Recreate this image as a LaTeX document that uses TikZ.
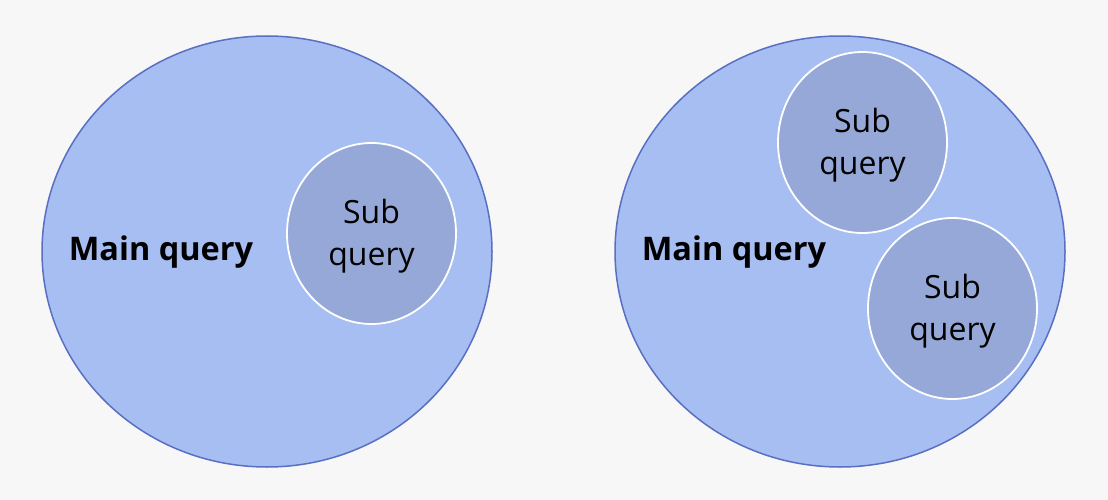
\documentclass[tikz,border=0pt]{standalone}
\usepackage{fontspec}
\setmainfont{Open Sans}
\definecolor{bg}{HTML}{F7F7F7}
\definecolor{mainfill}{HTML}{A6BEF2}
\definecolor{mainline}{HTML}{5A6FC2}
\definecolor{subfill}{HTML}{96A8D8}
\tikzset{
  mainset/.style={ellipse, draw=mainline, line width=1.5pt, fill=mainfill, minimum width=450pt, minimum height=431pt, inner sep=0pt},
  subset/.style={ellipse, draw=white, line width=1.8pt, fill=subfill, minimum width=169pt, minimum height=181pt, inner sep=0pt},
  subtext/.style={font=\fontsize{32}{42}\selectfont, align=center, anchor=center},
  mainlabel/.style={font=\bfseries\fontsize{32.5}{36}\selectfont, anchor=center}
}
\usetikzlibrary{shapes.geometric}
\begin{document}
\begin{tikzpicture}[x=1pt,y=-1pt]
\fill[bg] (0,0) rectangle (1108,500);
\useasboundingbox (0,0) rectangle (1108,500);
\node[mainset] (m1) at (267,251.5) {};
\node[mainset] (m2) at (840,251.5) {};
\node[subset] (s1) at (371.5,233.5) {};
\node[subset] (s2) at (862.5,142.5) {};
\node[subset] (s3) at (952.5,308.5) {};
\node[subtext] (t1) at ([yshift=-3pt]s1.center) {Sub\\query};
\node[subtext] (t2) at ([yshift=-3pt]s2.center) {Sub\\query};
\node[subtext] (t3) at ([yshift=-3pt]s3.center) {Sub\\query};
\node[mainlabel] (l1) at (161,252) {Main query};
\node[mainlabel] (l2) at (734,252) {Main query};
\end{tikzpicture}
\end{document}
